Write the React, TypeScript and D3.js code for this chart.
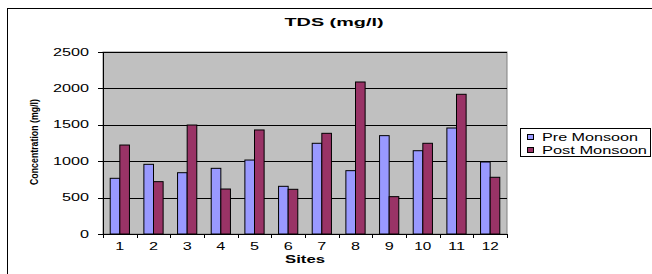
import React from "react";
import * as d3 from "d3";

const SITES = ["1", "2", "3", "4", "5", "6", "7", "8", "9", "10", "11", "12"];
const PRE_MONSOON = [765, 957, 842, 902, 1016, 655, 1246, 870, 1351, 1144, 1456, 989];
const POST_MONSOON = [1222, 719, 1497, 618, 1429, 614, 1383, 2088, 513, 1246, 1919, 779];
const Y_TICKS = [0, 500, 1000, 1500, 2000, 2500];
const SERIES = ["Pre Monsoon", "Post Monsoon"];
const COLORS = ["#9999FF", "#993366"];

export default function App() {
  const W = 652;
  const H = 274;
  const plot = { left: 103, right: 507, top: 52, bottom: 234 };

  const x = d3.scaleBand().domain(SITES).range([plot.left, plot.right]);
  const barW = x.bandwidth() / 3.5;
  const y = d3.scaleLinear().domain([0, 2500]).range([plot.bottom, plot.top]);
  const font = "Arial, 'Liberation Sans', sans-serif";

  const values = [PRE_MONSOON, POST_MONSOON];

  return (
    <svg
      width={W}
      height={H}
      style={{ position: "absolute", left: 0, top: 0 }}
      fontFamily={font}
    >
      <rect x={0} y={0} width={W} height={H} fill="#fff" />
      <rect x={7.5} y={8.5} width={660} height={300} fill="#fff" stroke="#000" />

      {/* title */}
      <text x={334} y={26} textAnchor="middle" fontSize={11} fontWeight="bold"
        textLength={99} lengthAdjust="spacingAndGlyphs">TDS (mg/l)</text>

      {/* plot area */}
      <rect x={plot.left} y={plot.top} width={plot.right - plot.left}
        height={plot.bottom - plot.top} fill="#C0C0C0" stroke="#808080" />

      {Y_TICKS.map((t) => (
        <g key={t}>
          {t > 0 && (
            <line x1={plot.left} x2={plot.right} y1={Math.round(y(t)) + 0.5}
              y2={Math.round(y(t)) + 0.5} stroke="#000" strokeWidth={1} />
          )}
          <line x1={plot.left - 5} x2={plot.left} y1={Math.round(y(t)) + 0.5}
            y2={Math.round(y(t)) + 0.5} stroke="#000" />
          <text x={89} y={y(t) + 3.5} textAnchor="end" fontSize={10}
            textLength={t === 0 ? 9 : t < 1000 ? 27 : 36} lengthAdjust="spacingAndGlyphs">
            {t}
          </text>
        </g>
      ))}

      {/* bars */}
      {SITES.map((s, i) =>
        values.map((vals, k) => {
          const bx = (x(s) as number) + barW * 0.75 + k * barW;
          return (
            <rect key={s + k} x={bx} y={y(vals[i])} width={barW}
              height={plot.bottom - y(vals[i])} fill={COLORS[k]} stroke="#000" strokeWidth={1} />
          );
        })
      )}

      {/* axes */}
      <line x1={plot.left + 0.5} x2={plot.left + 0.5} y1={plot.top} y2={plot.bottom} stroke="#000" />
      <line x1={plot.left} x2={plot.right} y1={plot.bottom + 0.5} y2={plot.bottom + 0.5} stroke="#000" />
      {[...SITES.map((s) => x(s) as number), plot.right].map((px, i) => (
        <line key={i} x1={Math.round(px) + 0.5} x2={Math.round(px) + 0.5}
          y1={plot.bottom} y2={plot.bottom + 4} stroke="#000" />
      ))}
      {SITES.map((s) => (
        <text key={s} x={(x(s) as number) + x.bandwidth() / 2} y={250} textAnchor="middle"
          fontSize={10} textLength={s.length > 1 ? 17 : 9} lengthAdjust="spacingAndGlyphs">
          {s}
        </text>
      ))}

      <text x={305} y={263} textAnchor="middle" fontSize={10} fontWeight="bold"
        textLength={40} lengthAdjust="spacingAndGlyphs">Sites</text>

      <text transform="translate(38,142) rotate(-90)" textAnchor="middle" fontSize={11}
        fontWeight="bold" textLength={86} lengthAdjust="spacingAndGlyphs">
        Concentration (mg/l)
      </text>

      {/* legend */}
      <rect x={520.5} y={128.5} width={130} height={28} fill="#fff" stroke="#000" />
      {SERIES.map((name, k) => (
        <g key={name}>
          <rect x={527.5} y={134.5 + k * 13} width={6} height={5} fill={COLORS[k]} stroke="#000" />
          <text x={542} y={140.5 + k * 13} fontSize={10}
            textLength={k === 0 ? 96 : 105} lengthAdjust="spacingAndGlyphs">
            {name}
          </text>
        </g>
      ))}
    </svg>
  );
}
